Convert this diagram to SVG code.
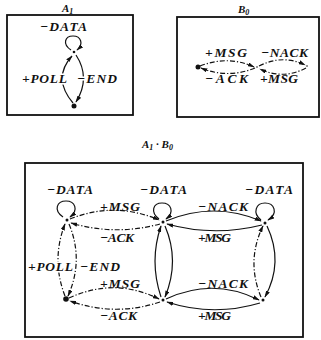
<svg xmlns="http://www.w3.org/2000/svg" width="321" height="340" viewBox="0 0 321 340">
<style>
.box{fill:none;stroke:#111;stroke-width:1.8}
.e{fill:none;stroke:#111;stroke-width:1.2;marker-end:url(#ah)}
.dd{stroke-dasharray:5 2 1.2 2}
.t{font-family:"Liberation Serif","Times New Roman",serif;font-style:italic;font-weight:bold;font-size:13.5px;fill:#111}
.ttl{font-family:"Liberation Serif","Times New Roman",serif;font-style:italic;font-weight:bold;font-size:11px;fill:#111}
.halo{stroke:#fff;stroke-width:3;paint-order:stroke}
.n{fill:#111}
</style>
<defs>
<marker id="ah" viewBox="0 0 10 6" refX="9" refY="3" markerWidth="7" markerHeight="4.2" orient="auto" markerUnits="userSpaceOnUse"><path d="M0,0 L10,3 L0,6 z" fill="#111"/></marker>
</defs>
<rect width="321" height="340" fill="#fff"/>

<g id="frames">
<rect class="box" x="7" y="15" width="126" height="100"/>
<rect class="box" x="177" y="17" width="142" height="100"/>
<rect class="box" x="25" y="163" width="278" height="174"/>
<text class="ttl" x="62" y="12">A<tspan font-size="8" dy="2">1</tspan></text>
<text class="ttl" x="238" y="13">B<tspan font-size="8" dy="2">0</tspan></text>
<text class="ttl" x="142" y="148">A<tspan font-size="8" dy="2">1</tspan><tspan dy="-2"> · B</tspan><tspan font-size="8" dy="2">0</tspan></text>
</g>

<g id="connectors">
<path class="e" d="M71,50 C62,44 65,36 73,36 C81,36 84,44 77,50"/>
<path class="e" d="M73,103 Q52,78 72,56"/>
<path class="e" d="M76,55 Q91,78 76,102"/>
<path class="e dd" d="M200,66 Q228,55 254,67"/>
<path class="e dd" d="M255,68 Q228,79 201,68"/>
<path class="e dd" d="M259,66 Q283,54 305,65"/>
<path class="e dd" d="M306,68 Q283,80 260,69"/>
<path class="e" d="M63,217 C53,210 57,201 66,201 C75,201 79,210 70,217"/>
<path class="e" d="M159,219 C150,212 153,203 162,203 C171,203 175,212 166,219"/>
<path class="e" d="M261,220 C252,213 256,203 265,203 C274,203 279,213 268,220"/>
<path class="e dd" d="M70,219 Q115,201 159,220"/>
<path class="e dd" d="M160,224 Q115,236 71,223"/>
<path class="e" d="M166,221 Q214,201 261,221"/>
<path class="e" d="M262,225 Q214,237 167,224"/>
<path class="e dd" d="M69,298 Q115,277 159,299"/>
<path class="e dd" d="M160,302 Q115,317 70,301"/>
<path class="e" d="M166,299 Q213,277 259,300"/>
<path class="e" d="M260,303 Q213,317 167,302"/>
<path class="e dd" d="M65,296 Q51,260 65,224"/>
<path class="e dd" d="M69,224 Q84,260 68,296"/>
<path class="e" d="M161,297 Q149,261 161,226"/>
<path class="e" d="M165,226 Q180,261 165,297"/>
<path class="e dd" d="M261,297 Q246,261 263,226"/>
<path class="e" d="M267,226 Q284,262 265,297"/>
</g>

<g id="A1_top"><circle class="n" cx="74" cy="52" r="1.3"/><text class="t" x="40" y="31" textLength="47" lengthAdjust="spacing">−DATA</text></g>
<g id="A1_bottom"><circle class="n" cx="74" cy="106" r="2.5"/></g>
<g id="A1_labels">
<text class="t halo" x="22" y="83" textLength="45" lengthAdjust="spacing">+POLL</text>
<text class="t halo" x="77" y="83" textLength="40" lengthAdjust="spacing">−END</text>
</g>

<g id="B0_0"><circle class="n" cx="198" cy="67" r="2.5"/></g>
<g id="B0_1"><circle class="n" cx="257" cy="67" r="0.8"/></g>
<g id="B0_2"><circle class="n" cx="307" cy="66" r="0.8"/></g>
<g id="B0_labels">
<text class="t" x="205" y="57" textLength="42" lengthAdjust="spacing">+MSG</text>
<text class="t" x="261" y="57" textLength="47" lengthAdjust="spacing">−NACK</text>
<text class="t" x="205" y="83" textLength="43" lengthAdjust="spacing">−ACK</text>
<text class="t" x="260" y="83" textLength="38" lengthAdjust="spacing">+MSG</text>
</g>

<g id="P_TL"><circle class="n" cx="67" cy="220" r="1.5"/><text class="t" x="47" y="194" textLength="46" lengthAdjust="spacing">−DATA</text></g>
<g id="P_TM"><circle class="n" cx="163" cy="222" r="1.5"/><text class="t" x="140" y="194" textLength="47" lengthAdjust="spacing">−DATA</text></g>
<g id="P_TR"><circle class="n" cx="265" cy="223" r="1.5"/><text class="t" x="245" y="194" textLength="48" lengthAdjust="spacing">−DATA</text></g>
<g id="P_BL"><circle class="n" cx="66" cy="299" r="2.8"/></g>
<g id="P_BM"><circle class="n" cx="163" cy="300" r="1.5"/></g>
<g id="P_BR"><circle class="n" cx="263" cy="300" r="1.5"/></g>
<g id="P_labels">
<text class="t" x="100" y="211" textLength="40" lengthAdjust="spacing">+MSG</text>
<text class="t" x="198" y="211" textLength="50" lengthAdjust="spacing">−NACK</text>
<text class="t" x="100" y="242" textLength="34" lengthAdjust="spacing">−ACK</text>
<text class="t" x="198" y="242" textLength="33" lengthAdjust="spacing">+MSG</text>
<text class="t halo" x="28" y="271" textLength="45" lengthAdjust="spacing">+POLL</text>
<text class="t halo" x="80" y="271" textLength="40" lengthAdjust="spacing">−END</text>
<text class="t" x="100" y="288" textLength="40" lengthAdjust="spacing">+MSG</text>
<text class="t" x="198" y="288" textLength="50" lengthAdjust="spacing">−NACK</text>
<text class="t" x="100" y="320" textLength="37" lengthAdjust="spacing">−ACK</text>
<text class="t" x="198" y="320" textLength="33" lengthAdjust="spacing">+MSG</text>
</g>
</svg>
